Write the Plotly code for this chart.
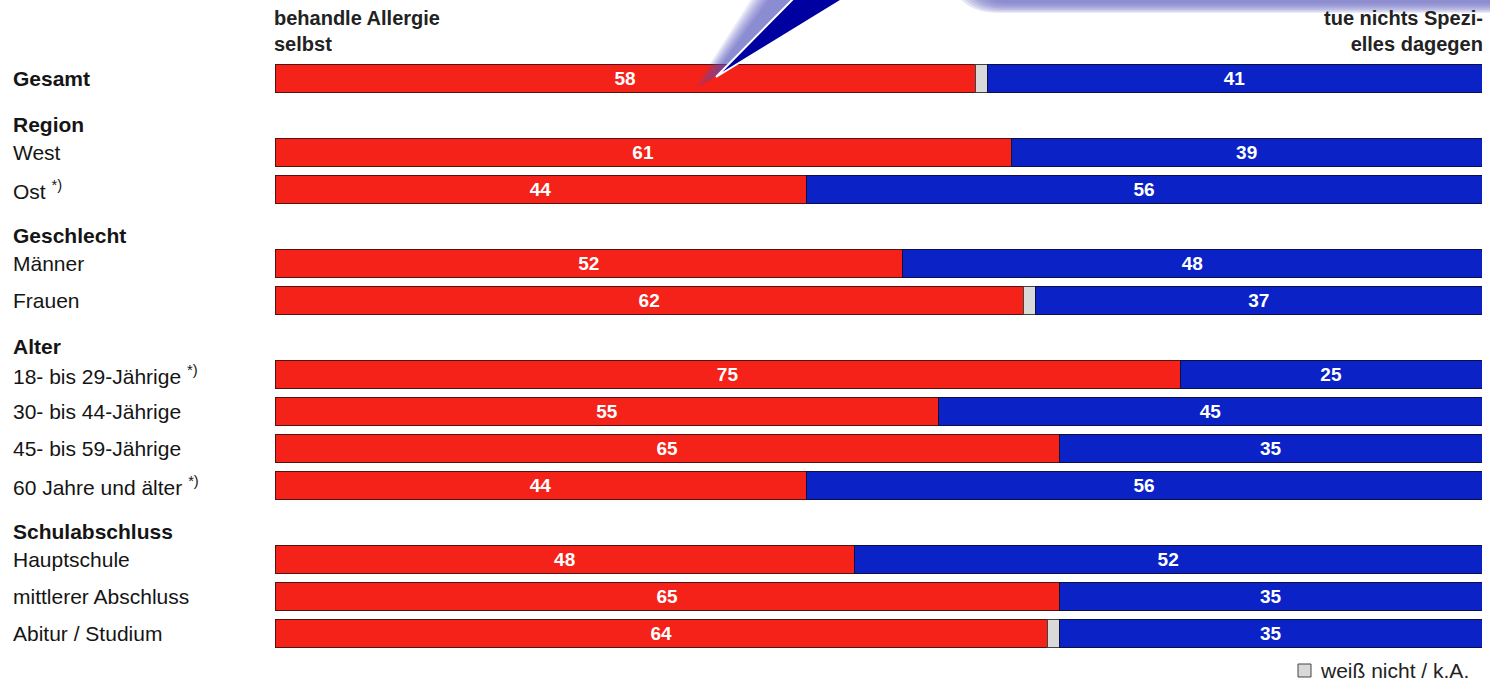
import plotly.graph_objects as go

# ---- data -------------------------------------------------------------
categories = [
    "Gesamt", "West", "Ost", "Männer", "Frauen",
    "18- bis 29-Jährige", "30- bis 44-Jährige", "45- bis 59-Jährige",
    "60 Jahre und älter", "Hauptschule", "mittlerer Abschluss",
    "Abitur / Studium",
]
groups = [
    "", "Region", "Region", "Geschlecht", "Geschlecht",
    "Alter", "Alter", "Alter", "Alter",
    "Schulabschluss", "Schulabschluss", "Schulabschluss",
]
small_sample = [False, False, True, False, False, True, False, False, True,
                False, False, False]
treat_self = [58, 61, 44, 52, 62, 75, 55, 65, 44, 48, 65, 64]
dont_know = [1, 0, 0, 0, 1, 0, 0, 0, 0, 0, 0, 1]
do_nothing = [41, 39, 56, 48, 37, 25, 45, 35, 56, 52, 35, 35]

left_title = "behandle Allergie<br>selbst"
right_title = "tue nichts Spezi-<br>elles dagegen"
legend_name = "weiß nicht / k.A."

# ---- layout constants -------------------------------------------------
W, H = 1490, 681
L, R, T, B = 275, 8, 60, 29
PW, PH = W - L - R, H - T - B

RED = "#f52219"
BLUE = "#0a22c6"
GREY = "#d9d9d9"
FONT = "Liberation Sans, Arial, sans-serif"


def px(x):
    return (x - L) / PW


def py(y):
    return (H - B - y) / PH


# row slots: group headers take a slot of their own
slots, header_slots = [], []
s, prev = -1, None
for g in groups:
    if g != prev and g:
        s += 1
        header_slots.append((g, s))
    s += 1
    slots.append(s)
    prev = g
n_slots = s + 1

fig = go.Figure()
line_dark = dict(color="rgba(45,15,15,0.8)", width=1)
value_font = dict(color="white", size=19, family=FONT, weight="bold")

fig.add_trace(go.Bar(
    y=slots, x=treat_self, orientation="h", marker=dict(color=RED, line=line_dark),
    text=treat_self, textposition="inside", insidetextanchor="middle",
    textangle=0, textfont=value_font,
    showlegend=False, hoverinfo="skip", name="behandle Allergie selbst",
))
fig.add_trace(go.Bar(
    y=slots, x=[v if v else None for v in dont_know], orientation="h",
    marker=dict(color=GREY, line=dict(color="rgba(50,50,50,0.9)", width=1)),
    showlegend=False, name=legend_name, hoverinfo="skip",
))
fig.add_trace(go.Bar(
    y=slots, x=do_nothing, orientation="h",
    marker=dict(color=BLUE, line=dict(color="rgba(10,10,50,0.85)", width=1)),
    text=do_nothing, textposition="inside", insidetextanchor="middle",
    textangle=0, textfont=value_font,
    showlegend=False, hoverinfo="skip", name="tue nichts Spezielles dagegen",
))

annotations = []
label_x = px(11)
label_font = dict(size=21, color="#151515", family=FONT)
for cat, slot, star, g in zip(categories, slots, small_sample, groups):
    txt = cat + (" <sup>*)</sup>" if star else "")
    if not g:
        txt = "<b>" + txt + "</b>"
    annotations.append(dict(
        x=label_x, xref="paper", y=slot, yref="y", text=txt, showarrow=False,
        xanchor="left", yanchor="middle", font=label_font,
    ))
for g, slot in header_slots:
    annotations.append(dict(
        x=label_x, xref="paper", y=slot + 0.25, yref="y", text="<b>" + g + "</b>",
        showarrow=False, xanchor="left", yanchor="middle", font=label_font,
    ))

title_font = dict(size=20, color="#222", family=FONT)
annotations.append(dict(
    x=px(272), xref="paper", y=py(31), yref="paper", text="<b>" + left_title + "</b>",
    showarrow=False, xanchor="left", yanchor="middle", align="left", font=title_font,
))
annotations.append(dict(
    x=px(1485), xref="paper", y=py(31), yref="paper", text="<b>" + right_title + "</b>",
    showarrow=False, xanchor="right", yanchor="middle", align="right", font=title_font,
))

# legend entry for the "don't know" segment
annotations.append(dict(
    x=px(1318), xref="paper", y=py(670), yref="paper", text=legend_name,
    showarrow=False, xanchor="left", yanchor="middle",
    font=dict(size=21, color="#222", family=FONT),
))
shapes = [dict(
    type="rect", xref="paper", yref="paper",
    x0=px(1298), x1=px(1311), y0=py(664), y1=py(677),
    fillcolor=GREY, line=dict(color="#444", width=1),
)]


# speech-bubble decoration: pointer with soft shadow and the lower rim of the box
def tri_path(pts):
    return "M " + " L ".join(f"{px(x):.5f},{py(y):.5f}" for x, y in pts) + " Z"


for k in range(9, 0, -1):
    d = k * 2.0
    shapes.append(dict(
        type="path", xref="paper", yref="paper", layer="above",
        path=tri_path([(712 - d, 80 + d * 0.5), (785 - d * 1.2, -20), (845 + d * 0.3, -20)]),
        fillcolor="rgba(80,80,190,0.11)", line=dict(width=0),
    ))
shapes.append(dict(
    type="path", xref="paper", yref="paper", layer="above",
    path=tri_path([(716, 77), (797, -5), (850, -5)]),
    fillcolor="#0000a0", line=dict(color="white", width=2),
))


def rrect_path(x0, y0, x1, y1, r):
    pts = [f"M {px(x0 + r):.5f},{py(y0):.5f}", f"L {px(x1):.5f},{py(y0):.5f}",
           f"L {px(x1):.5f},{py(y1):.5f}", f"L {px(x0 + r):.5f},{py(y1):.5f}",
           f"Q {px(x0):.5f},{py(y1):.5f} {px(x0):.5f},{py(y1 - r):.5f}",
           f"L {px(x0):.5f},{py(y0):.5f} Z"]
    return " ".join(pts)


for k in range(7, -1, -1):
    d = k * 1.4
    shapes.append(dict(
        type="path", xref="paper", yref="paper", layer="above",
        path=rrect_path(980 - d * 3, -40, W + 20, 3 + d, 28 + d * 2),
        fillcolor="rgba(120,120,200,0.2)", line=dict(width=0),
    ))

fig.update_layout(
    width=W, height=H,
    margin=dict(l=L, r=R, t=T, b=B, pad=0, autoexpand=False),
    paper_bgcolor="white", plot_bgcolor="white",
    barmode="stack", bargap=0.24,
    xaxis=dict(range=[0, 100], visible=False, fixedrange=True),
    yaxis=dict(range=[n_slots - 0.5, -0.5], visible=False, fixedrange=True),
    annotations=annotations, shapes=shapes,
    showlegend=False,
    font=dict(family=FONT),
)

fig.write_html("out.html")
